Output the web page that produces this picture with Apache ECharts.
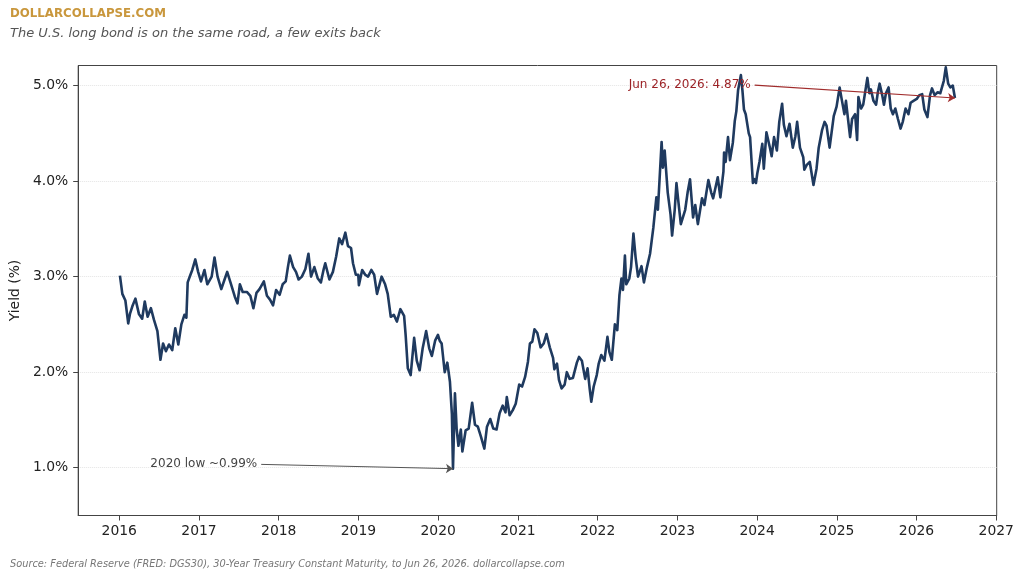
<!DOCTYPE html>
<html>
<head>
<meta charset="utf-8">
<script src="https://cdn.jsdelivr.net/npm/echarts@6/dist/echarts.min.js"></script>
<style>
  html, body { margin: 0; padding: 0; background: #fff; }
  #chart { width: 1024px; height: 580px; }
</style>
</head>
<body>
<div id="chart"></div>
<script>
// 30-year treasury yield (about two points a month)
const dates = [
  '2016-01-04','2016-01-15','2016-01-29','2016-02-11','2016-02-19','2016-03-01','2016-03-15','2016-03-31','2016-04-15','2016-04-27','2016-05-10','2016-05-25','2016-06-08','2016-06-24','2016-07-08','2016-07-20','2016-08-02','2016-08-16','2016-08-31','2016-09-14','2016-09-28','2016-10-12','2016-10-26','2016-11-04','2016-11-10','2016-11-21','2016-12-01','2016-12-15','2016-12-28',
  '2017-01-10','2017-01-26','2017-02-08','2017-02-28','2017-03-13','2017-03-27','2017-04-13','2017-04-28','2017-05-10','2017-05-25','2017-06-14','2017-06-26','2017-07-07','2017-07-20','2017-08-08','2017-08-24','2017-09-07','2017-09-21','2017-10-05','2017-10-25','2017-11-08','2017-11-22','2017-12-06','2017-12-20',
  '2018-01-05','2018-01-19','2018-02-02','2018-02-12','2018-02-21','2018-03-08','2018-03-21','2018-04-02','2018-04-17','2018-05-03','2018-05-17','2018-05-29','2018-06-13','2018-06-29','2018-07-13','2018-07-26','2018-08-02','2018-08-21','2018-09-06','2018-09-21','2018-10-05','2018-10-18','2018-11-02','2018-11-14','2018-11-28','2018-12-07','2018-12-20','2018-12-31',
  '2019-01-03','2019-01-18','2019-02-01','2019-02-14','2019-03-01','2019-03-14','2019-03-27','2019-04-17','2019-05-03','2019-05-15','2019-05-29','2019-06-12','2019-06-26','2019-07-12','2019-07-29','2019-08-05','2019-08-15','2019-08-28','2019-09-13','2019-09-25','2019-10-08','2019-10-22','2019-11-07','2019-11-21','2019-12-03','2019-12-18','2019-12-31',
  '2020-01-08','2020-01-17','2020-01-31','2020-02-12','2020-02-24','2020-03-04','2020-03-09','2020-03-18','2020-03-26','2020-04-03','2020-04-14','2020-04-21','2020-05-06','2020-05-20','2020-06-05','2020-06-18','2020-07-01','2020-07-16','2020-07-31','2020-08-12','2020-08-27','2020-09-10','2020-09-25','2020-10-09','2020-10-23','2020-11-05','2020-11-11','2020-11-24','2020-12-08','2020-12-22',
  '2021-01-07','2021-01-20','2021-02-03','2021-02-16','2021-02-25','2021-03-08','2021-03-18','2021-03-31','2021-04-15','2021-04-29','2021-05-12','2021-05-27','2021-06-11','2021-06-17','2021-06-29','2021-07-08','2021-07-20','2021-08-03','2021-08-13','2021-08-26','2021-09-10','2021-09-28','2021-10-08','2021-10-21','2021-11-05','2021-11-16','2021-11-26','2021-12-03','2021-12-14','2021-12-28',
  '2022-01-06','2022-01-18','2022-02-01','2022-02-15','2022-02-24','2022-03-07','2022-03-21','2022-04-01','2022-04-11','2022-04-20','2022-04-27','2022-05-06','2022-05-12','2022-05-26','2022-06-03','2022-06-14','2022-06-24','2022-07-05','2022-07-21','2022-08-01','2022-08-15','2022-08-29','2022-09-13','2022-09-27','2022-10-04','2022-10-21','2022-10-27','2022-11-04','2022-11-18','2022-12-01','2022-12-08','2022-12-20','2022-12-28',
  '2023-01-05','2023-01-17','2023-02-06','2023-02-17','2023-02-28','2023-03-14','2023-03-24','2023-04-05','2023-04-24','2023-05-05','2023-05-23','2023-06-05','2023-06-14','2023-07-05','2023-07-17','2023-07-31','2023-08-03','2023-08-10','2023-08-21','2023-08-30','2023-09-12','2023-09-21','2023-09-28','2023-10-06','2023-10-19','2023-10-26','2023-11-02','2023-11-10','2023-11-24','2023-11-30','2023-12-13','2023-12-20','2023-12-27',
  '2024-01-02','2024-01-12','2024-01-25','2024-02-01','2024-02-13','2024-02-28','2024-03-08','2024-03-19','2024-04-01','2024-04-12','2024-04-25','2024-05-03','2024-05-15','2024-05-29','2024-06-13','2024-06-25','2024-07-03','2024-07-16','2024-07-31','2024-08-05','2024-08-16','2024-08-30','2024-09-16','2024-09-30','2024-10-10','2024-10-25','2024-11-06','2024-11-15','2024-11-29','2024-12-06','2024-12-18','2024-12-31',
  '2025-01-03','2025-01-14','2025-01-24','2025-02-05','2025-02-12','2025-02-24','2025-03-03','2025-03-12','2025-03-26','2025-04-04','2025-04-10','2025-04-22','2025-05-02','2025-05-21','2025-05-30','2025-06-06','2025-06-18','2025-06-30','2025-07-08','2025-07-16','2025-07-28','2025-08-05','2025-08-14','2025-08-26','2025-09-05','2025-09-15','2025-09-26','2025-10-08','2025-10-20','2025-10-30','2025-11-12','2025-11-25','2025-12-05','2025-12-18',
  '2026-01-02','2026-01-14','2026-01-27','2026-02-06','2026-02-20','2026-03-04','2026-03-13','2026-03-25','2026-04-08','2026-04-20','2026-05-06','2026-05-15','2026-05-26','2026-06-05','2026-06-16','2026-06-26'
];
const yields = [
  3.01,2.82,2.75,2.51,2.61,2.69,2.77,2.61,2.56,2.74,2.58,2.67,2.55,2.43,2.13,2.30,2.22,2.29,2.23,2.46,2.29,2.50,2.60,2.57,2.94,3.01,3.07,3.18,3.05,
  2.95,3.07,2.92,3.00,3.20,3.00,2.87,2.97,3.05,2.94,2.79,2.72,2.92,2.84,2.84,2.80,2.67,2.83,2.87,2.95,2.80,2.76,2.70,2.86,
  2.81,2.92,2.95,3.10,3.22,3.10,3.05,2.97,3.00,3.08,3.24,3.00,3.10,2.98,2.94,3.08,3.14,2.97,3.05,3.21,3.40,3.34,3.46,3.32,3.30,3.14,3.02,3.02,
  2.91,3.07,3.02,3.00,3.07,3.02,2.82,3.00,2.92,2.82,2.58,2.60,2.53,2.66,2.59,2.39,2.04,1.97,2.36,2.12,2.02,2.25,2.43,2.25,2.17,2.33,2.39,
  2.33,2.30,2.00,2.10,1.90,1.56,0.99,1.78,1.40,1.23,1.40,1.17,1.39,1.41,1.68,1.45,1.43,1.32,1.20,1.43,1.51,1.41,1.40,1.57,1.65,1.58,1.74,1.55,1.60,1.67,
  1.87,1.85,1.95,2.11,2.30,2.32,2.45,2.41,2.26,2.30,2.40,2.26,2.15,2.03,2.09,1.92,1.83,1.87,2.00,1.93,1.94,2.10,2.16,2.12,1.93,2.04,1.82,1.69,1.85,1.97,
  2.09,2.18,2.12,2.37,2.21,2.13,2.50,2.44,2.81,2.98,2.86,3.22,2.92,2.98,3.10,3.45,3.20,3.00,3.11,2.94,3.10,3.24,3.51,3.83,3.70,4.41,4.14,4.32,3.88,3.65,3.43,3.70,3.98,
  3.80,3.55,3.70,3.88,4.02,3.62,3.75,3.55,3.82,3.75,4.01,3.88,3.82,4.04,3.83,4.10,4.30,4.20,4.46,4.22,4.40,4.63,4.73,4.95,5.11,4.95,4.75,4.70,4.50,4.46,3.98,4.02,3.98,
  4.08,4.20,4.39,4.13,4.51,4.36,4.26,4.46,4.32,4.62,4.81,4.59,4.47,4.60,4.35,4.47,4.62,4.35,4.25,4.12,4.17,4.20,3.96,4.13,4.35,4.53,4.62,4.58,4.35,4.36,4.68,4.78,
  4.80,4.98,4.85,4.70,4.84,4.60,4.46,4.65,4.70,4.43,4.88,4.76,4.80,5.08,4.92,4.96,4.84,4.80,4.93,5.02,4.90,4.80,4.92,4.98,4.76,4.70,4.76,4.65,4.55,4.62,4.76,4.70,4.82,4.84,
  4.86,4.90,4.91,4.75,4.67,4.90,4.97,4.90,4.93,4.92,5.05,5.19,5.02,4.98,5.00,4.87
];
const xTicks = [2016, 2017, 2018, 2019, 2020, 2021, 2022, 2023, 2024, 2025, 2026, 2027];
const yTicks = [1, 2, 3, 4, 5];

const lowDate = '2020-03-09';
const lowValue = 0.99;
const lowText = '2020 low ~0.99%';
const lastText = 'Jun 26, 2026: 4.87%';

if (dates.length !== yields.length) {
  throw new Error('dates/yields length mismatch: ' + dates.length + ' vs ' + yields.length);
}

function toYear(s) {
  const [y, m, d] = s.split('-').map(Number);
  const start = Date.UTC(y, 0, 1);
  const end = Date.UTC(y + 1, 0, 1);
  return y + (Date.UTC(y, m - 1, d) - start) / (end - start);
}

const points = dates.map((d, i) => [toYear(d), yields[i]]);
const firstX = points[0][0];
const lastX = points[points.length - 1][0];
const lastY = yields[yields.length - 1];
const pad = (lastX - firstX) * 0.05; // matplotlib style margins
const lowX = toYear(lowDate);

const chart = echarts.init(document.getElementById('chart'), null, { renderer: 'canvas' });
const font = 'DejaVu Sans';

chart.setOption({
  animation: false,
  backgroundColor: '#fff',
  textStyle: { fontFamily: font },
  title: [
    {
      text: 'DOLLARCOLLAPSE.COM', left: 10, top: 8, padding: 0,
      textStyle: { fontFamily: font, fontSize: 11.8, fontWeight: 'bold', color: '#c9973c' }
    },
    {
      text: 'The U.S. long bond is on the same road, a few exits back', left: 10, top: 27, padding: 0,
      textStyle: { fontFamily: font, fontSize: 13, fontStyle: 'italic', fontWeight: 'normal', color: '#555' }
    },
    {
      text: 'Source: Federal Reserve (FRED: DGS30), 30-Year Treasury Constant Maturity, to Jun 26, 2026. dollarcollapse.com',
      left: 10, top: 559, padding: 0,
      textStyle: { fontFamily: font, fontSize: 9.8, fontStyle: 'italic', fontWeight: 'normal', color: '#777' }
    }
  ],
  grid: {
    left: 76, right: 27.3, top: 65.5, bottom: 64.5,
    show: true, borderColor: '#444', borderWidth: 1, backgroundColor: 'transparent'
  },
  xAxis: {
    type: 'value',
    min: firstX - pad,
    max: lastX + pad,
    axisLine: { show: true, lineStyle: { color: '#444', width: 1 } },
    axisTick: { show: true, length: 5, customValues: xTicks, lineStyle: { color: '#444' } },
    axisLabel: {
      customValues: xTicks, margin: 9, fontSize: 13.9, color: '#222',
      formatter: v => String(Math.round(v))
    },
    splitLine: { show: false }
  },
  yAxis: {
    type: 'value',
    min: 0.5,
    max: 5.21,
    name: 'Yield (%)',
    nameLocation: 'middle',
    nameGap: 50,
    nameTextStyle: { fontSize: 13.9, color: '#222' },
    axisLine: { show: true, lineStyle: { color: '#444', width: 1 } },
    axisTick: { show: true, length: 5, customValues: yTicks, lineStyle: { color: '#444' } },
    axisLabel: {
      customValues: yTicks, margin: 10, fontSize: 13.9, color: '#222',
      formatter: v => v.toFixed(1) + '%'
    },
    splitLine: { show: true, lineStyle: { color: '#e4e4e4', type: 'dotted', width: 1 } }
  },
  series: [{
    type: 'line',
    data: points,
    showSymbol: false,
    symbol: 'none',
    lineStyle: { color: '#1f3a5f', width: 2.6, join: 'round' },
    z: 3,
    markLine: {
      silent: true,
      symbol: ['none', 'arrow'],
      symbolSize: 7,
      animation: false,
      data: [
        [
          {
            coord: [2023.97, 5.005],
            lineStyle: { color: '#a02c2c', width: 1.2, type: 'solid' },
            label: { show: true, position: 'start', distance: 4, formatter: lastText, color: '#9b2226', fontSize: 12 }
          },
          { coord: [lastX, lastY] }
        ],
        [
          {
            coord: [2017.78, 1.035],
            lineStyle: { color: '#555', width: 1, type: 'solid' },
            label: { show: true, position: 'start', distance: 4, formatter: lowText, color: '#444', fontSize: 12 }
          },
          { coord: [lowX, lowValue] }
        ]
      ]
    }
  }]
});
</script>
</body>
</html>
